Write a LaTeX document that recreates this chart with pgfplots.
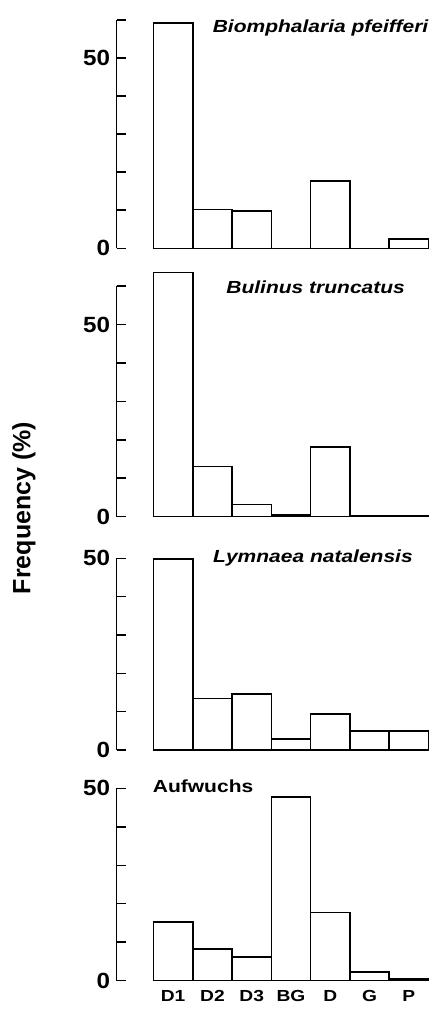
\documentclass[border=0pt]{standalone}
\usepackage{fontspec}
\setmainfont{Liberation Sans}
\newfontfamily\wide{Liberation Sans}[FakeStretch=1.2]
\newfontfamily\tickf{Liberation Sans}[FakeStretch=1.1]
\usepackage{pgfplots}
\pgfplotsset{compat=1.18}

\pgfplotsset{
  panel/.style={
    scale only axis, width=312pt,
    xmin=-1.442, xmax=6.5, ymin=0,
    axis y line*=left, axis x line*=bottom,
    axis line style={line width=1.5pt},
    x axis line style={draw=none},
    xtick style={draw=none},
    ytick style={line width=1.5pt, black},
    tick align=inside, major tick length=9pt,
    clip=false,
    ybar, bar width=1,
    /pgf/number format/assume math mode=true,
    yticklabel style={font=\tickf\bfseries\fontsize{22}{25}\selectfont, xshift=-3pt},
    xticklabel style={font=\wide\bfseries\fontsize{16}{19}\selectfont},
    xtick={0,...,6},
    xticklabels={},
  },
}
\tikzset{
  bars/.style={draw=black, fill=white, line width=1.5pt},
  ttl/.style={font=\wide\bfseries\itshape\fontsize{17.5}{20}\selectfont, inner sep=0pt},
}

\begin{document}
\begin{tikzpicture}
\useasboundingbox (0,0) rectangle (433pt,1009pt);

% Panel 1
\begin{axis}[panel, at={(116.5pt,760.7pt)}, anchor=south west,
  height=228.3pt, ymax=60,
  ytick={0,10,...,60}, yticklabels={0,,,,,50,}]
\addplot[bars] coordinates {(0,59.2) (1,10.2) (2,9.8) (3,0) (4,17.7) (5,0) (6,2.4)};
\node[ttl, anchor=base east] at (axis cs:6.5,56.8) {Biomphalaria pfeifferi};
\end{axis}

% Panel 2
\begin{axis}[panel, at={(116.5pt,492.3pt)}, anchor=south west,
  height=230.7pt, ymax=60,
  ytick={0,10,...,60}, yticklabels={0,,,,,50,}]
\addplot[bars] coordinates {(0,63.5) (1,13.0) (2,3.2) (3,0.4) (4,18.1) (5,0.25) (6,0.25)};
\node[ttl, anchor=base west] at (axis cs:1.35,58.1) {Bulinus truncatus};
\end{axis}

% Panel 3
\begin{axis}[panel, at={(116.5pt,259pt)}, anchor=south west,
  height=191.7pt, ymax=50,
  ytick={0,10,...,50}, yticklabels={0,,,,,50}]
\addplot[bars] coordinates {(0,49.8) (1,13.4) (2,14.6) (3,2.9) (4,9.4) (5,5.0) (6,4.9)};
\node[ttl, anchor=base west] at (axis cs:1.014,48.9) {Lymnaea natalensis};
\end{axis}

% Panel 4
\begin{axis}[panel, at={(116.5pt,28.3pt)}, anchor=south west,
  height=192.4pt, ymax=50,
  ytick={0,10,...,50}, yticklabels={0,,,,,50},
  xticklabels={D1,D2,D3,BG,D,G,P},
  xticklabel style={yshift=2.5pt}]
\addplot[bars] coordinates {(0,15.2) (1,8.2) (2,6.2) (3,47.8) (4,17.7) (5,2.3) (6,0.5)};
\node[ttl, font=\wide\bfseries\fontsize{17.5}{20}\selectfont, anchor=base west] at (axis cs:-0.52,48.9) {Aufwuchs};
\end{axis}

\node[rotate=90, font=\bfseries\fontsize{25}{28}\selectfont] at (24pt,501pt) {Frequency (\%)};
\end{tikzpicture}
\end{document}
